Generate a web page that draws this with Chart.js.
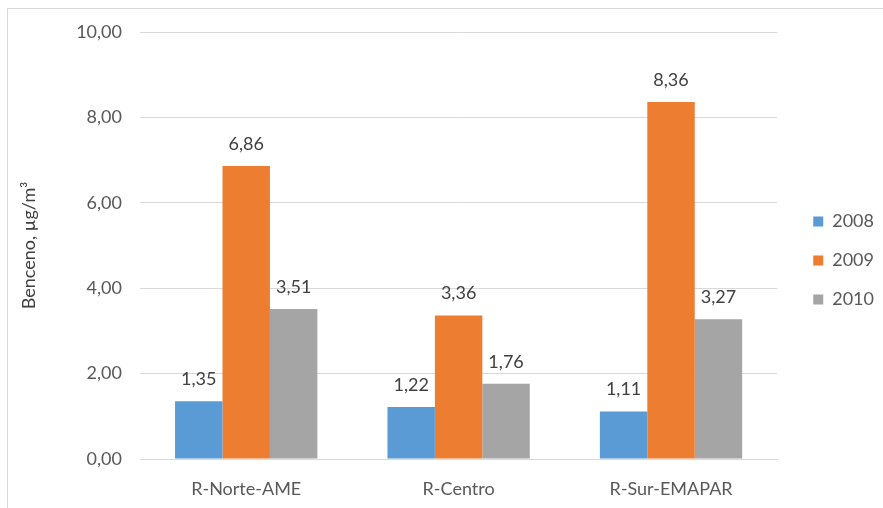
<!DOCTYPE html>
<html>
<head>
<meta charset="utf-8">
<script src="https://cdn.jsdelivr.net/npm/chart.js@4"></script>
<style>
html, body { margin: 0; padding: 0; background: #fff; }
.frame {
    position: absolute; left: 7px; top: 8px; width: 876px; height: 500px;
    border-left: 1px solid #d9d9d9; border-top: 1px solid #d9d9d9;
}
</style>
</head>
<body>
<div class="frame"><canvas id="benceno" width="876" height="500"></canvas></div>
<script>
// data
const categories = ['R-Norte-AME', 'R-Centro', 'R-Sur-EMAPAR'];
const years = ['2008', '2009', '2010'];
const values2008 = [1.35, 1.22, 1.11];
const values2009 = [6.86, 3.36, 8.36];
const values2010 = [3.51, 1.76, 3.27];
const yTicks = [0, 2, 4, 6, 8, 10];

const colors = ['#5b9bd5', '#ed7d31', '#a5a5a5'];
const fontName = 'Lato, "Liberation Sans", sans-serif';

const fmt = v => v.toFixed(2).replace('.', ',');

// values written above each bar
const barLabels = {
    id: 'barLabels',
    afterDatasetsDraw(chart) {
        const ctx = chart.ctx;
        ctx.save();
        ctx.font = '18px ' + fontName;
        ctx.fillStyle = '#404040';
        ctx.textAlign = 'center';
        ctx.textBaseline = 'middle';
        chart.data.datasets.forEach((ds, i) => {
            chart.getDatasetMeta(i).data.forEach((bar, j) => {
                ctx.fillText(fmt(ds.data[j]), bar.x, bar.y - 22);
            });
        });
        ctx.restore();
    }
};

// nudge the legend up a bit
const legendShift = {
    id: 'legendShift',
    afterLayout(chart) {
        chart.legend.top -= 10;
        chart.legend.bottom -= 10;
    }
};

const ctx = document.getElementById('benceno').getContext('2d');
const chart = new Chart(ctx, {
    type: 'bar',
    data: {
        labels: categories,
        datasets: [
            { label: years[0], data: values2008, backgroundColor: colors[0] },
            { label: years[1], data: values2009, backgroundColor: colors[1] },
            { label: years[2], data: values2010, backgroundColor: colors[2] }
        ]
    },
    options: {
        responsive: false,
        animation: false,
        layout: { padding: { top: 23, right: 0, bottom: 0, left: 0 } },
        datasets: { bar: { categoryPercentage: 0.67, barPercentage: 1 } },
        plugins: {
            legend: {
                position: 'right',
                labels: {
                    boxWidth: 10, boxHeight: 10, padding: 21,
                    color: '#595959',
                    font: { family: fontName, size: 18 }
                }
            },
            tooltip: { enabled: false }
        },
        scales: {
            x: {
                grid: { display: false },
                border: { color: '#d9d9d9' },
                ticks: { color: '#595959', font: { family: fontName, size: 18 }, padding: 11 },
                afterFit: s => { s.height = 50; }
            },
            y: {
                min: 0, max: 10,
                afterBuildTicks: s => { s.ticks = yTicks.map(v => ({ value: v })); },
                grid: { color: '#d9d9d9', drawTicks: false },
                border: { display: false },
                ticks: { color: '#595959', font: { family: fontName, size: 18 }, padding: 18, callback: v => fmt(v) },
                title: {
                    display: true, text: 'Benceno, µg/m³', color: '#404040',
                    font: { family: fontName, size: 18 }, padding: { top: 10, bottom: 4 }
                },
                afterFit: s => { s.width = 132; s.paddingTop = 0; s.paddingBottom = 0; }
            },
            // empty axis on the right, only keeps a gap before the legend
            gap: {
                position: 'right',
                grid: { display: false },
                border: { display: false },
                ticks: { display: false },
                afterFit: s => { s.width = 15; }
            }
        }
    },
    plugins: [barLabels, legendShift]
});
</script>
</body>
</html>
